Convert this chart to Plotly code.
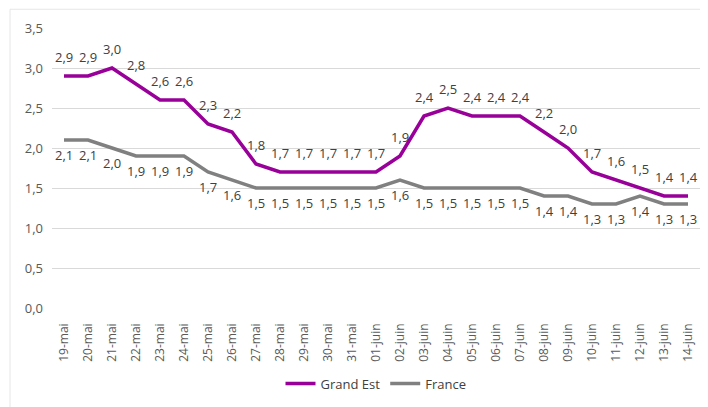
import plotly.graph_objects as go

dates = ["19-mai", "20-mai", "21-mai", "22-mai", "23-mai", "24-mai", "25-mai", "26-mai",
         "27-mai", "28-mai", "29-mai", "30-mai", "31-mai", "01-juin", "02-juin", "03-juin",
         "04-juin", "05-juin", "06-juin", "07-juin", "08-juin", "09-juin", "10-juin",
         "11-juin", "12-juin", "13-juin", "14-juin"]
grand_est = [2.9, 2.9, 3.0, 2.8, 2.6, 2.6, 2.3, 2.2, 1.8, 1.7, 1.7, 1.7, 1.7, 1.7, 1.9,
             2.4, 2.5, 2.4, 2.4, 2.4, 2.2, 2.0, 1.7, 1.6, 1.5, 1.4, 1.4]
france = [2.1, 2.1, 2.0, 1.9, 1.9, 1.9, 1.7, 1.6, 1.5, 1.5, 1.5, 1.5, 1.5, 1.5, 1.6,
          1.5, 1.5, 1.5, 1.5, 1.5, 1.4, 1.4, 1.3, 1.3, 1.4, 1.3, 1.3]
y_ticks = [0.0, 0.5, 1.0, 1.5, 2.0, 2.5, 3.0, 3.5]

PURPLE = "#990099"
GRAY = "#808080"
TEXT = "#404040"
TICK = "#595959"
FONT = "Open Sans"

fig = go.Figure()
fig.add_trace(go.Scatter(x=dates, y=grand_est, mode="lines", name="Grand Est",
                         line=dict(color=PURPLE, width=3.5)))
fig.add_trace(go.Scatter(x=dates, y=france, mode="lines", name="France",
                         line=dict(color=GRAY, width=3.5)))

annotations = []
for d, v in zip(dates, grand_est):
    annotations.append(dict(x=d, y=v, text=f"{v:.1f}".replace(".", ","), showarrow=False,
                            yshift=19, font=dict(family=FONT, size=13, color=TEXT)))
for d, v in zip(dates, france):
    annotations.append(dict(x=d, y=v, text=f"{v:.1f}".replace(".", ","), showarrow=False,
                            yshift=-15, font=dict(family=FONT, size=13, color=TEXT)))

fig.update_layout(
    width=700, height=399,
    margin=dict(l=44, r=8, t=20, b=97),
    paper_bgcolor="white", plot_bgcolor="white",
    separators=", ",
    font=dict(family=FONT, size=12, color=TEXT),
    showlegend=True,
    legend=dict(orientation="h", x=0.5, xanchor="center", y=-0.27, yanchor="middle",
                font=dict(family=FONT, size=13, color=TEXT)),
    annotations=annotations,
    shapes=[dict(type="rect", xref="paper", yref="paper", x0=-0.0648, x1=1.05,
                 y0=-0.5, y1=1.067, line=dict(color="#e6e6e6", width=1), layer="below")],
)
fig.update_xaxes(type="category", range=[-0.5, len(dates) - 0.5], tickangle=-90,
                 showgrid=False, showline=False, ticks="", automargin=False,
                 ticklabelstandoff=12,
                 tickfont=dict(family=FONT, size=12, color=TICK))
fig.update_yaxes(range=[0, 3.5], tickvals=y_ticks, tickformat=".1f",
                 showgrid=True, gridcolor="#d9d9d9", gridwidth=1, zeroline=False,
                 ticks="", automargin=False, ticklabelstandoff=8,
                 tickfont=dict(family=FONT, size=13, color=TICK))

fig.write_html("out.html")
